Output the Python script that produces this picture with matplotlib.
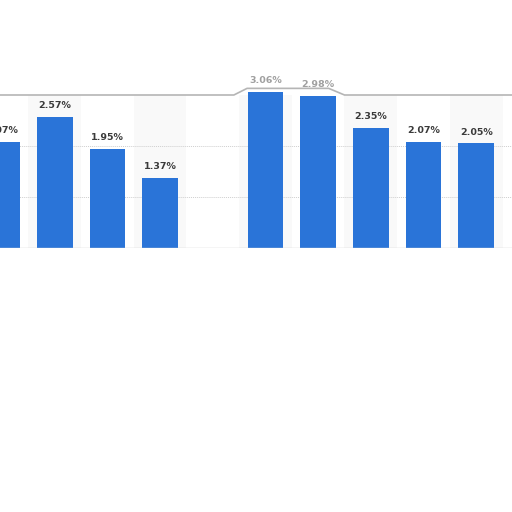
import matplotlib
matplotlib.use("Agg")
import matplotlib.pyplot as plt
import numpy as np

# values (slot 4 is empty)
values = [2.07, 2.57, 1.95, 1.37, np.nan, 3.06, 2.98, 2.35, 2.07, 2.05]
labels = ["2.07%", "2.57%", "1.95%", "1.37%", "", "3.06%", "2.98%", "2.35%", "2.07%", "2.05%"]
grid_ticks = [1, 2]

bar_color = "#2a74d8"
text_color = "#3a3a3a"

fig = plt.figure(figsize=(5.12, 5.12), dpi=100)
ax = fig.add_axes([0, 264 / 512, 1, 153 / 512])

x = np.arange(len(values))

# faint alternating column bands
for i in x:
    if i % 2 == 1:
        ax.axvspan(i - 0.5, i + 0.5, color="#f9f9f9", zorder=0, lw=0)

for t in grid_ticks:
    ax.axhline(t, color="#cfcfcf", lw=0.7, ls=(0, (1, 1)), zorder=1)
ax.axhline(0, color="#d0d0d0", lw=1.0, zorder=3)

bars = ax.bar(x, values, width=0.68, color=bar_color, zorder=2, clip_on=False)

for i, (v, lab) in enumerate(zip(values, labels)):
    if np.isnan(v):
        continue
    faded = v > 2.9
    ax.annotate(lab, (i, v), xytext=(0, 5), textcoords="offset points",
                ha="center", va="bottom", fontsize=6.8, fontweight="bold",
                color="#a0a0a0" if faded else text_color,
                annotation_clip=False)

# wavy gray edge of the cropped screenshot
edge_x = [-0.5, 4.4, 4.65, 6.2, 6.5, 10.5]
edge_y = [3.0, 3.0, 3.13, 3.13, 3.0, 3.0]
ax.plot(edge_x, edge_y, color="#b5b5b5", lw=1.2, clip_on=False, zorder=4)

ax.set_xlim(-0.04, 9.68)
ax.set_ylim(0, 3.0)
ax.axis("off")

fig.savefig("out.png", dpi=100, facecolor="white")
